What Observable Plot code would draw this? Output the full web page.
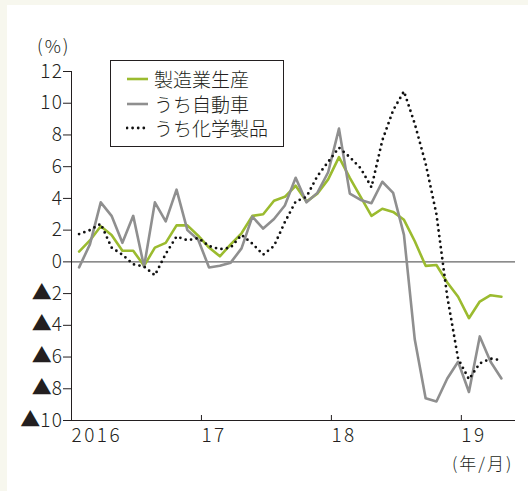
<!DOCTYPE html>
<html><head><meta charset="utf-8">
<script src="https://cdn.jsdelivr.net/npm/d3@7"></script>
<script src="https://cdn.jsdelivr.net/npm/@observablehq/plot@0.6"></script>
<style>
html,body{margin:0;padding:0;background:#f7f7ee;}
#wrap{position:relative;width:528px;height:491px;overflow:hidden;background:#f7f7ee;}
#panel{position:absolute;left:7px;top:5px;right:0;bottom:0;background:#fff;}
#chart{position:absolute;left:0;top:0;}
.lbl{position:absolute;font-family:"Noto Sans CJK JP",sans-serif;font-weight:300;color:#231f20;white-space:nowrap;}
#legend{position:absolute;left:110px;top:60px;width:172px;height:85px;border:1px solid #231f20;background:#fff;}
.row{position:absolute;left:0;height:24px;line-height:24px;font-family:"Noto Sans CJK JP",sans-serif;font-weight:300;font-size:19px;color:#231f20;white-space:nowrap;}
.row svg{position:absolute;left:15px;top:0;}
.row span{position:absolute;left:43px;top:0;}
#chart g[aria-label="x-axis tick label"] text{letter-spacing:2.5px;}
#chart g[aria-label="y-axis tick label"] text{letter-spacing:1.5px;}
</style></head><body>
<div id="wrap">
<div id="panel"></div>
<div id="chart"></div>
<div class="lbl" style="left:37px;top:32px;font-size:18px;letter-spacing:2px;">(%)</div>
<div class="lbl" style="left:452px;top:450px;font-size:17px;letter-spacing:2px;">(年/月)</div>
<div id="legend"></div>
</div>
<script>
// Months: Jan 2016 .. Apr 2019
const months = ["2016-01","2016-02","2016-03","2016-04","2016-05","2016-06","2016-07","2016-08","2016-09","2016-10","2016-11","2016-12",
"2017-01","2017-02","2017-03","2017-04","2017-05","2017-06","2017-07","2017-08","2017-09","2017-10","2017-11","2017-12",
"2018-01","2018-02","2018-03","2018-04","2018-05","2018-06","2018-07","2018-08","2018-09","2018-10","2018-11","2018-12",
"2019-01","2019-02","2019-03","2019-04"];
const seriesNames = ["製造業生産","うち自動車","うち化学製品"];
const manufacturing = [0.65,1.35,2.24,1.7,0.7,0.7,-0.25,0.9,1.2,2.3,2.3,1.65,0.9,0.35,1.1,1.8,2.9,3.0,3.85,4.1,4.8,3.8,4.3,5.2,6.6,5.3,4.1,2.9,3.35,3.15,2.65,1.3,-0.25,-0.2,-1.3,-2.2,-3.55,-2.5,-2.1,-2.2];
const autos = [-0.35,1.1,3.75,2.9,1.2,2.9,-0.3,3.75,2.55,4.55,2.0,1.4,-0.35,-0.25,-0.05,0.85,2.85,2.1,2.7,3.55,5.3,3.75,4.35,5.65,8.4,4.3,3.9,3.7,5.05,4.35,1.7,-4.9,-8.6,-8.8,-7.35,-6.3,-8.2,-4.7,-6.3,-7.35];
const chemicals = [1.75,2.0,2.4,0.9,0.45,-0.15,-0.3,-0.85,0.5,1.6,1.36,1.5,1.0,0.8,0.9,1.7,1.15,0.45,1.0,2.5,3.8,4.1,5.4,6.3,7.2,6.6,5.9,4.7,7.65,9.55,10.75,8.7,6.2,3.0,-2.2,-6.1,-7.4,-6.4,-6.1,-6.2];
const yTicks = [-10,-8,-6,-4,-2,0,2,4,6,8,10,12];
const xTickMonths = ["2016-01","2017-01","2018-01","2019-01"];
const xTickLabels = ["2016","17","18","19"];

const colors = {"製造業生産":"#9bbb2f","うち自動車":"#8f8f8f","うち化学製品":"#111"};
const monthPos = m => months.indexOf(m);
const table = months.map((m,i)=>({month:m, pos:i+0.7, mfg:manufacturing[i], auto:autos[i], chem:chemicals[i]}));
const xTicks = xTickMonths.map(monthPos);
const font = '"Noto Sans CJK JP", sans-serif';

const plot = Plot.plot({
  width: 528, height: 491,
  marginLeft: 71, marginRight: 13, marginTop: 71, marginBottom: 71,
  style: {background: "transparent", fontFamily: font, fontSize: "19px", fontWeight: 300, color: "#231f20"},
  x: {type: "linear", domain: [0, 41]},
  y: {domain: [-10, 12]},
  marks: [
    Plot.ruleY([0], {stroke: "#666", strokeWidth: 1.2}),
    Plot.ruleX([0], {stroke: "#231f20", strokeWidth: 1}),
    Plot.ruleY([-10], {stroke: "#231f20", strokeWidth: 1}),
    Plot.axisY({ticks: yTicks, tickSize: 8, tickPadding: 0, label: null, stroke: "#231f20",
      tickFormat: d => d < 0 ? "▲" + (-d) : String(d)}),
    Plot.axisX({ticks: xTicks, tickSize: 0, tickPadding: 8, textAnchor: "start", label: null,
      tickFormat: d => xTickLabels[xTicks.indexOf(d)]}),
    Plot.axisX({ticks: xTicks, tickSize: -5, tickFormat: () => "", label: null, stroke: "#231f20"}),
    Plot.lineY(table, {x: "pos", y: "mfg", stroke: colors["製造業生産"], strokeWidth: 2.6}),
    Plot.lineY(table, {x: "pos", y: "auto", stroke: colors["うち自動車"], strokeWidth: 2.6}),
    Plot.lineY(table, {x: "pos", y: "chem", stroke: colors["うち化学製品"], strokeWidth: 2.8,
      strokeDasharray: "0 5.6", strokeLinecap: "round"})
  ]
});
document.getElementById("chart").appendChild(plot);

// slightly enlarge the ▲ glyph in the y tick labels (keeps them as text)
plot.querySelectorAll('g[aria-label="y-axis tick label"] text').forEach(t => {
  const s = t.textContent;
  if (s.startsWith("▲")) {
    t.textContent = "";
    const tri = document.createElementNS("http://www.w3.org/2000/svg", "tspan");
    tri.setAttribute("font-size", "20px");
    tri.setAttribute("letter-spacing", "0px");
    tri.textContent = "▲";
    const num = document.createElementNS("http://www.w3.org/2000/svg", "tspan");
    num.textContent = s.slice(1);
    t.appendChild(tri); t.appendChild(num);
  }
});

const legend = document.getElementById("legend");
const rowTops = [6, 30.5, 55];
seriesNames.forEach((name, i) => {
  const row = document.createElement("div");
  row.className = "row";
  row.style.top = rowTops[i] + "px";
  row.style.width = "170px";
  const dash = i === 2 ? 'stroke-dasharray="0 5.6" stroke-linecap="round" stroke-width="2.8"' : 'stroke-width="2.6"';
  row.innerHTML = `<svg width="24" height="24"><line x1="1" x2="22" y1="12" y2="12" stroke="${colors[name]}" ${dash}/></svg><span>${name}</span>`;
  legend.appendChild(row);
});
</script>
</body></html>
